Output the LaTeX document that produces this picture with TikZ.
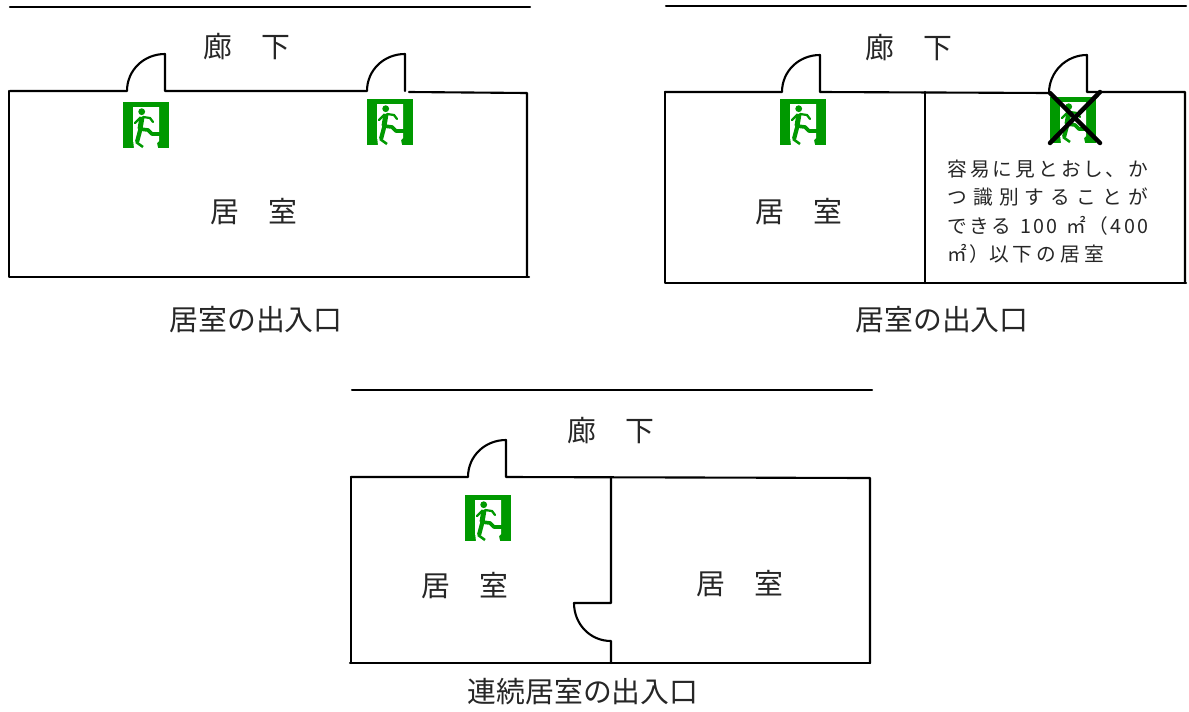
\documentclass[tikz,border=0pt]{standalone}
\usepackage{fontspec}
\setmainfont{Noto Sans CJK JP}[BoldFont=Noto Sans CJK JP]
\newfontfamily\notefont{Noto Sans CJK JP}[LetterSpace=12]
\definecolor{signgreen}{RGB}{0,153,0}
\tikzset{
  wall/.style={draw=black,line width=1.5pt,line cap=round,line join=round},
  heavycross/.style={draw=black,line width=3.2pt,line cap=round},
  exitsign/.pic={
    \fill[signgreen] (0,0) rectangle (46,46);
    \fill[white] (10,5) -- (36,5) -- (36,39) -- (34,41) -- (35,46) -- (11,46) -- (10,38) -- cycle;
    \fill[signgreen] (18.7,9.7) circle [radius=3.4];
    \draw[signgreen,line width=3.6pt,line join=round] (19,15) -- (17,27);
    \draw[signgreen,line width=3pt,line join=round] (18,25) -- (14,40);
    \draw[signgreen,line width=1.6pt,line cap=round,line join=round] (20,15) -- (27,16) -- (30,20);
    \draw[signgreen,line width=1.6pt,line cap=round,line join=round] (17,16) -- (12,21);
    \draw[signgreen,line width=2.6pt,line join=round] (17,27) -- (25,28) -- (29,32) -- (38,32);
    \draw[signgreen,line width=1.8pt] (13,40) -- (20,45);
  }
}
\XeTeXlinebreaklocale "ja"
\XeTeXlinebreakskip=0pt plus 3pt minus 1pt
\begin{document}
\begin{tikzpicture}[x=0.025cm,y=-0.025cm]
  \useasboundingbox (0,0) rectangle (1189,711);

  % signs
  \foreach \signx/\signy in {123/102,367/99,780/99,1050/97,465/495}
    \pic at (\signx,\signy) {exitsign};

  % left room
  \draw[wall] (10,7) -- (530,7);
  \draw[wall] (10,91) -- (127,91) .. controls (127,70) and (144,54) .. (165,54) -- (165,91) -- (367,91)
    .. controls (367,70) and (384,54) .. (405,54) -- (405,91);
  \draw[wall] (409,92) -- (527,93) -- (527,277);
  \draw[wall] (9,91) -- (9,277) -- (529,277);

  % right room
  \draw[wall] (666,6) -- (1186,6);
  \draw[wall] (665,92) -- (782,92) .. controls (782,71) and (799,55) .. (820,55) -- (820,92) -- (1049,93)
    .. controls (1049,72) and (1066,55) .. (1087,55) -- (1087,92) -- (1185,92) -- (1185,283);
  \draw[wall] (665,92) -- (665,283) -- (1186,283);
  \draw[wall] (925,92) -- (925,283);
  \draw[heavycross] (1050,93) -- (1100,143);
  \draw[heavycross] (1100,92) -- (1050,143);

  % lower room
  \draw[wall] (352,390) -- (872,390);
  \draw[wall] (351,477) -- (468,477) .. controls (468,456) and (485,440) .. (506,440) -- (506,477) -- (870,478) -- (870,663);
  \draw[wall] (351,477) -- (351,663);
  \draw[wall] (350,663) -- (870,663);
  \draw[wall] (611,477) -- (611,603) -- (574,603) .. controls (574,624) and (590,641) .. (611,641) -- (611,663);

  \begin{scope}[every node/.style={font=\fontsize{20.5pt}{24pt}\selectfont,text=black!85}]
    \node (hall1)    at (247,47)  {廊　下};
    \node (hall2)    at (909,48)  {廊　下};
    \node (hall3)    at (611,431) {廊　下};
    \node (room1)    at (254,212) {居　室};
    \node (room2)    at (799,212) {居　室};
    \node (room3)    at (465,586) {居　室};
    \node (room4)    at (740,584) {居　室};
    \node (caption1) at (256,320) {居室の出入口};
    \node (caption2) at (942,320) {居室の出入口};
    \node (caption3) at (583,692) {連続居室の出入口};
  \end{scope}

  \node[text width=201*0.025cm,inner sep=0pt,anchor=north west,align=justify,text=black!85,
        font=\notefont\fontsize{14pt}{20pt}\selectfont] (note) at (947,160)
    {\parfillskip=1cm 容易に見とおし、か\linebreak つ識別することが\linebreak できる 100 ㎡（400\linebreak ㎡）以\kern3pt 下\kern3pt の\kern3pt 居\kern3pt 室};
\end{tikzpicture}
\end{document}
